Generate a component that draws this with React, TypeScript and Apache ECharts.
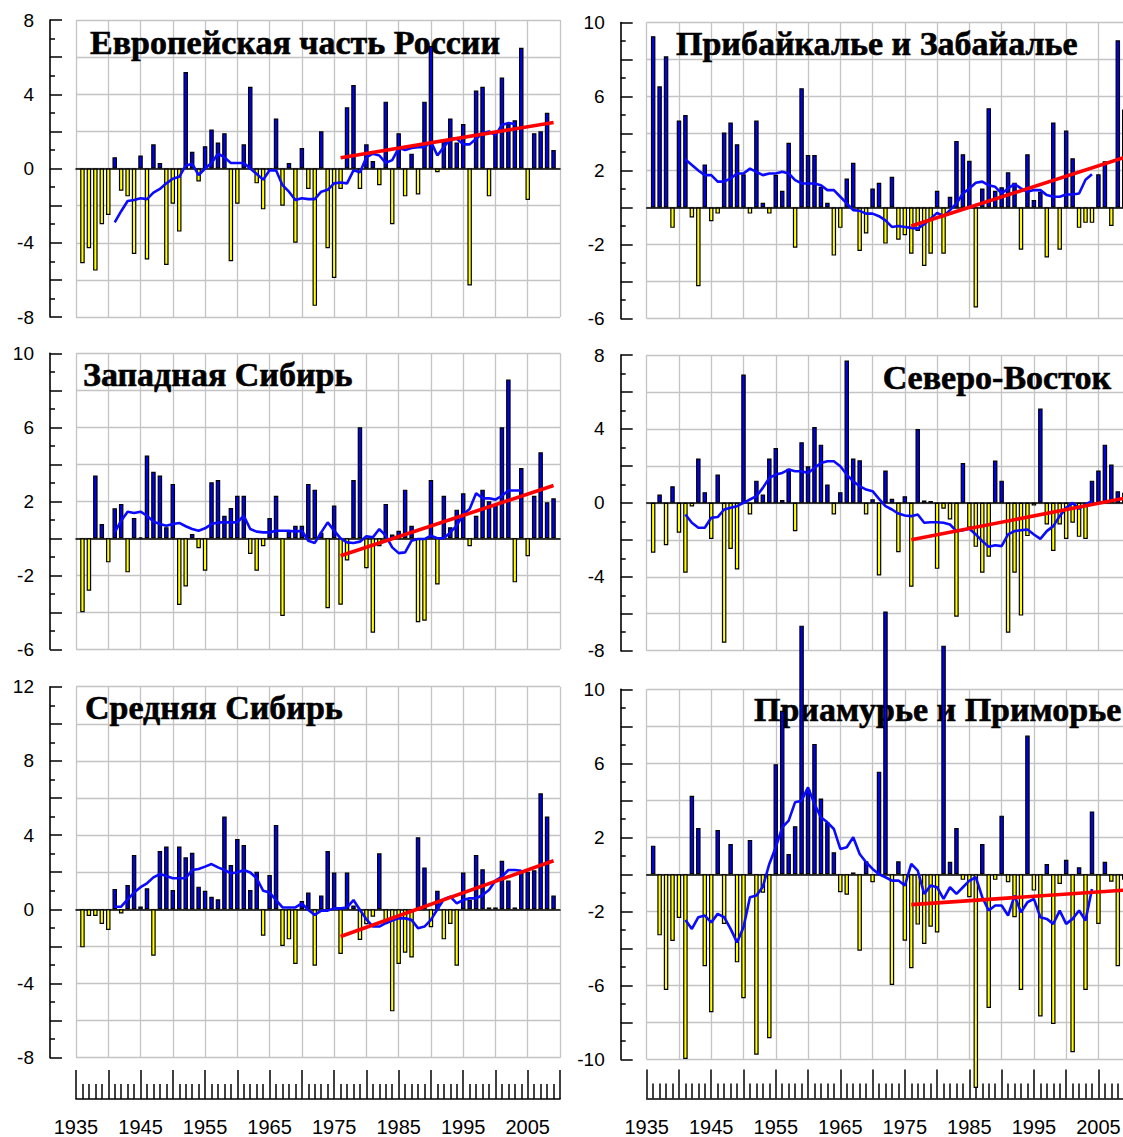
import React, { useEffect, useRef } from "react";
import * as echarts from "echarts";

// ---------- DATA ----------
const BAR_START = 1936; // first bar year (bars run 1936..2009)
const MA_START = 1941; // first year of the smoothed curve
const X_MIN = 1935;
const X_MAX = 2010;

const europeBars = [
  -5.1, -4.3, -5.5, -3.0, -2.5, 0.6, -1.2, -1.5, -4.6, 0.7,
  -4.9, 1.3, 0.3, -5.2, -1.9, -3.4, 5.2, 0.9, -0.7, 1.2,
  2.1, 1.4, 1.9, -5.0, -1.9, 1.3, 4.4, -0.8, -2.2, -0.1,
  2.7, -2.0, 0.3, -4.0, 1.1, -1.1, -7.4, 2.0, -4.3, -5.9,
  -1.1, 3.3, 4.5, -1.1, 1.3, 0.4, -0.9, 3.6, -3.0, 1.9,
  -1.5, 0.8, -1.4, 3.6, 6.6, -0.2, 1.5, 2.7, 1.4, 2.4,
  -6.3, 4.2, 4.4, -1.5, 2.0, 4.9, 2.4, 2.6, 6.5, -1.7,
  1.9, 2.0, 3.0, 1.0,
];
const europeMA = [
  -2.9, -2.3, -1.75, -1.7, -1.6, -1.65, -1.3, -1.1, -0.8, -0.55,
  -0.45, 0.15, 0.25, -0.35, 0.0, 0.3, 0.8, 0.6, 0.3, 0.3,
  0.3, 0.0, -0.3, -0.6, -0.1, -0.1, -0.9, -1.25, -1.7, -1.6,
  -1.65, -1.65, -1.25, -1.15, -0.8, -0.75, -0.8, -0.1, -0.2, 0.6,
  0.8, 0.7, 0.3, 0.45, 1.1, 1.0, 1.1, 1.15, 1.15, 1.45,
  0.7, 1.15, 1.6, 1.6, 1.3, 1.3, 1.6, 1.9, 2.0, 1.8,
  2.35, 2.45, 2.4,
];
const europeTrend = [[1976, 0.58], [2009, 2.48]];

const baikalBars = [
  9.26, 6.55, 8.17, -1.1, 4.7, 5.0, -0.54, -4.25, 2.33, -0.74,
  -0.33, 4.05, 4.6, 3.42, 1.8, -0.33, 4.7, 0.25, -0.33, 1.75,
  0.9, 3.5, -2.17, 6.45, 2.84, 2.84, 1.12, 0.25, -2.6, -1.1,
  1.57, 2.42, -2.35, -1.4, 1.03, 1.34, -1.95, 1.66, -1.74, -1.5,
  -2.5, -1.27, -3.16, -2.5, 0.9, -2.5, 0.58, 3.6, 2.88, 2.53,
  -5.4, 1.03, 5.37, 0.9, 1.1, 1.9, 1.34, -2.28, 2.88, 0.4,
  0.85, -2.7, 4.6, -2.28, 4.16, 2.66, -1.1, -0.83, -0.83, 1.8,
  2.5, -1.0, 9.04, 5.3,
];
const baikalMA = [
  2.6, 2.3, 2.0, 1.75, 1.75, 1.4, 1.4, 1.57, 1.84, 1.84,
  2.1, 1.93, 1.75, 1.84, 1.84, 1.93, 1.84, 1.48, 1.3, 1.3,
  1.3, 1.2, 0.94, 0.94, 0.58, 0.22, -0.14, -0.18, -0.33, -0.33,
  -0.47, -0.7, -1.05, -1.0, -1.05, -1.1, -1.14, -0.9, -0.6, -0.29,
  -0.47, -0.14, 0.22, 0.76, 1.03, 1.34, 1.4, 1.2, 1.12, 0.76,
  1.03, 1.27, 1.03, 0.85, 0.94, 0.94, 0.67, 0.58, 0.58, 0.7,
  0.7, 0.76, 1.5, 1.8,
];
const baikalTrend = [[1976, -1.0], [2009, 2.7]];

const westBars = [
  -4.0, -2.83, 3.39, 0.77, -1.3, 1.62, 1.86, -1.84, 1.1, 0.05,
  4.47, 3.6, 3.39, 0.6, 2.94, -3.6, -2.6, 0.23, -0.54, -1.75,
  3.03, 3.15, 1.22, 1.64, 2.3, 2.3, -0.85, -1.75, -0.43, 1.1,
  2.3, -4.2, 0.41, 0.68, 0.68, 2.94, 2.63, 0.3, -3.78, 1.77,
  -3.59, -1.2, 3.15, 6.0, -1.62, -5.1, -0.43, 1.86, 0.2, 0.41,
  2.63, 0.68, -4.54, -4.45, 3.15, -2.5, 2.3, 0.6, 1.55, 2.43,
  -0.43, 1.22, 2.63, 2.0, 1.8, 6.0, 8.58, -2.38, 3.8, -0.97,
  2.3, 4.65, 1.95, 2.16,
];
const westMA = [
  0.32, 0.95, 1.44, 1.37, 1.44, 1.22, 0.9, 0.77, 0.68, 0.77,
  0.83, 0.65, 0.5, 0.41, 0.54, 0.77, 0.86, 0.86, 0.86, 0.86,
  1.22, 0.5, 0.36, 0.32, 0.32, 0.41, 0.41, 0.41, 0.36, 0.41,
  -0.13, -0.25, 0.32, 0.86, 0.41, 0.0, -0.22, -0.25, -0.18, 0.11,
  0.05, 0.5, 0.14, -0.49, -0.8, -0.76, -0.13, -0.04, -0.04, 0.14,
  0.0, 0.0, 0.32, 0.68, 1.3, 1.58, 2.43, 2.16, 2.16, 2.09,
  2.3, 2.58, 2.58, 2.58,
];
const westTrend = [[1976, -0.94], [2009, 2.85]];

const northEastBars = [
  -2.7, 0.45, -2.29, 0.9, -1.62, -3.78, -0.2, 2.4, 0.58, -1.95,
  1.53, -7.57, -2.5, -3.6, 6.94, -0.63, 1.2, 0.45, 2.4, 2.97,
  0.15, 1.84, -1.53, 3.28, 1.98, 4.1, 3.15, 0.99, -0.63, 0.58,
  7.7, 2.4, 2.3, -0.63, 0.2, -3.93, 1.75, 0.22, -2.67, 0.36,
  -4.54, 4.0, 0.13, 0.1, -3.57, -0.32, -0.9, -6.16, 2.16, -1.35,
  -2.38, -3.78, -2.92, 2.29, 1.2, -7.03, -3.78, -6.1, -1.8, -0.14,
  5.1, -1.17, -2.6, -1.17, -1.95, -1.08, -1.84, -1.95, 1.2, 1.75,
  3.15, 2.07, 0.63, 0.55,
];
const northEastMA = [
  -0.63, -1.08, -1.35, -1.35, -0.81, -0.77, -0.36, -0.27, -0.18, 0.0,
  0.18, 0.36, 0.81, 1.35, 1.53, 1.62, 1.8, 1.71, 1.71, 1.62,
  1.89, 2.16, 2.25, 2.25, 1.98, 1.53, 1.17, 0.9, 0.72, 0.63,
  0.22, -0.18, -0.36, -0.58, -0.68, -0.72, -0.63, -1.08, -1.05, -1.05,
  -1.08, -1.17, -1.53, -1.48, -1.4, -1.71, -2.07, -2.38, -2.29, -2.34,
  -1.71, -1.53, -1.48, -1.44, -1.71, -1.95, -1.53, -1.26, -0.72, -0.27,
  0.0, -0.32, -0.09, 0.09,
];
const northEastTrend = [[1976, -2.0], [2009, 0.25]];

const centralBars = [
  -2.05, -0.36, -0.36, -0.79, -1.11, 1.1, -0.22, 1.31, 2.93, 0.15,
  1.13, -2.5, 3.14, 3.38, 1.04, 3.38, 2.8, 3.05, 1.22, 1.0,
  0.68, 0.54, 5.0, 2.39, 3.79, 3.47, 1.04, 2.03, -1.42, 1.85,
  4.55, -1.98, -1.62, -2.95, 0.45, 0.9, -3.04, 0.75, 3.14, 1.98,
  -2.41, 1.98, 0.2, -1.65, -0.8, -0.4, 3.02, -0.75, -5.5, -2.95,
  -2.34, -2.6, 3.88, 2.26, -0.97, 1.0, -1.62, -0.79, -3.04, 1.98,
  0.5, 2.93, 2.16, 0.1, 0.1, 2.62, 1.55, 0.1, 2.12, 2.03,
  2.1, 6.25, 5.0, 0.74,
];
const centralMA = [
  0.14, 0.14, 0.54, 0.9, 1.19, 1.4, 1.72, 1.9, 1.8, 1.67,
  1.67, 1.67, 2.12, 2.17, 2.3, 2.44, 2.26, 2.12, 1.94, 1.98,
  2.12, 1.98, 1.67, 1.0, 0.9, 0.5, 0.1, 0.1, 0.1, 0.32,
  -0.04, -0.3, -0.07, -0.07, 0.05, 0.05, 0.1, 0.5, -0.04, -0.54,
  -0.93, -0.93, -0.75, -0.61, -0.49, -0.49, -0.57, -1.02, -0.93, -0.57,
  0.0, 0.54, 0.68, 0.32, 0.5, 0.59, 0.59, 0.77, 1.04, 1.55,
  1.76, 2.12, 2.12, 2.08,
];
const centralTrend = [[1976, -1.47], [2009, 2.62]];

const amurBars = [
  1.55, -3.3, -6.25, -3.6, -2.36, -9.98, 4.25, 2.5, -4.97, -7.46,
  2.4, -2.68, 1.64, -4.76, -6.7, 1.86, -9.75, -1.0, -8.86, 5.95,
  8.84, 1.1, 2.6, 13.44, 4.6, 7.05, 4.1, 2.8, 1.19, -0.97,
  -1.1, 0.1, -4.13, 0.7, -0.43, 5.55, 14.2, -5.98, 0.7, -3.59,
  -5.08, -2.72, -3.77, -2.83, -3.14, 12.36, 0.68, 2.5, -0.3, -1.24,
  -11.55, 1.64, -7.23, -0.3, 3.17, -0.43, -2.32, -6.25, 7.5, -0.88,
  -7.68, 0.56, -8.09, -0.52, 0.79, -9.62, 0.38, -6.25, 3.4, -2.68,
  0.68, -0.4, -4.97, -0.3,
];
const amurMA = [
  -2.47, -2.95, -2.32, -2.23, -2.6, -2.14, -2.32, -2.95, -3.68, -2.86,
  -1.24, -1.15, -0.67, 0.56, 1.46, 2.54, 2.9, 3.9, 3.98, 4.7,
  3.8, 3.08, 2.81, 2.45, 1.37, 1.46, 2.0, 1.1, 0.65, 0.29,
  0.0, -0.16, -0.34, -0.34, -0.61, 0.56, 0.2, -1.06, -0.61, -0.7,
  -1.33, -0.7, -1.06, -0.7, -0.34, -0.16, -1.24, -1.96, -1.69, -1.69,
  -2.23, -1.15, -2.05, -1.51, -1.33, -2.32, -2.41, -2.68, -1.96, -2.68,
  -2.41, -1.96, -2.5, -0.79,
];
const amurTrend = [[1976, -1.64], [2009, -0.86]];

const titles = [
  "Европейская часть России",
  "Прибайкалье и Забайалье",
  "Западная Сибирь",
  "Северо-Восток",
  "Средняя Сибирь",
  "Приамурье и Приморье",
];

// ---------- LAYOUT ----------
const PLOT_W = 484;
const layout = [
  { left: 76, top: 20, height: 297, min: -8, max: 8, tx: 90, ty: 42, align: "left" },
  { left: 646.7, top: 22.5, height: 296, min: -6, max: 10, tx: 676, ty: 43, align: "left" },
  { left: 76, top: 353.3, height: 296, min: -6, max: 10, tx: 83, ty: 374, align: "left" },
  { left: 646.7, top: 355, height: 295.7, min: -8, max: 8, tx: 1111, ty: 377, align: "right" },
  { left: 76, top: 686.7, height: 371, min: -8, max: 12, tx: 85, ty: 707, align: "left" },
  { left: 646.7, top: 689.3, height: 370, min: -10, max: 10, tx: 754, ty: 709, align: "left" },
];
const seriesData = [
  { bars: europeBars, ma: europeMA, trend: europeTrend },
  { bars: baikalBars, ma: baikalMA, trend: baikalTrend },
  { bars: westBars, ma: westMA, trend: westTrend },
  { bars: northEastBars, ma: northEastMA, trend: northEastTrend },
  { bars: centralBars, ma: centralMA, trend: centralTrend },
  { bars: amurBars, ma: amurMA, trend: amurTrend },
];

const BLUE_BAR = "#0000f2";
const YELLOW_BAR = "#ffff00";
const MA_COLOR = "#0a0aff";
const TREND_COLOR = "#ff0000";
const GRID_COLOR = "#c4c4c4";
const AXIS_FONT = "Liberation Sans";

function buildOption() {
  const grid: any[] = layout.map((l) => ({ left: l.left, top: l.top, width: PLOT_W, height: l.height }));
  grid.push({ left: 76, top: 1070, width: PLOT_W, height: 31.5 });
  grid.push({ left: 646.7, top: 1067, width: PLOT_W, height: 31.5 });

  const xAxis: any[] = layout.map((_, i) => ({
    type: "value",
    gridIndex: i,
    min: X_MIN,
    max: X_MAX,
    interval: 5,
    axisLine: { show: true, onZero: true, lineStyle: { color: "#000", width: 1.6 } },
    axisTick: { show: false },
    axisLabel: { show: false },
    splitLine: { show: true, lineStyle: { color: GRID_COLOR, width: 1.3 } },
  }));
  [6, 7].forEach((gi) =>
    xAxis.push({
      type: "value",
      gridIndex: gi,
      min: X_MIN,
      max: X_MAX,
      interval: 5,
      position: "bottom",
      axisLine: { show: true, onZero: false, lineStyle: { color: "#000", width: 1.6 } },
      axisTick: { show: true, inside: true, length: 29, lineStyle: { color: "#000", width: 1.5 } },
      minorTick: { show: true, splitNumber: 5, length: 15, lineStyle: { color: "#000", width: 1.5 } },
      axisLabel: {
        show: true,
        margin: 18,
        fontSize: 20,
        fontFamily: AXIS_FONT,
        color: "#000",
        formatter: (v: number) => ((Math.round(v) - X_MIN) % 10 === 0 ? String(Math.round(v)) : ""),
      },
      splitLine: { show: false },
    })
  );

  const yAxis: any[] = layout.map((l, i) => ({
    type: "value",
    gridIndex: i,
    min: l.min,
    max: l.max,
    interval: 2,
    offset: 26,
    axisLine: { show: true, onZero: false, lineStyle: { color: "#000", width: 1.6 } },
    axisTick: { show: true, inside: true, length: 12, lineStyle: { color: "#000", width: 1.5 } },
    minorTick: { show: true, splitNumber: 2, length: 5, lineStyle: { color: "#000", width: 1.5 } },
    axisLabel: {
      margin: 16,
      fontSize: 19,
      fontFamily: AXIS_FONT,
      color: "#000",
      formatter: (v: number) => ((v - l.min) % 4 === 0 ? String(v) : ""),
    },
    splitLine: { show: true, lineStyle: { color: GRID_COLOR, width: 1.3 } },
  }));
  yAxis.push({ type: "value", gridIndex: 6, show: false });
  yAxis.push({ type: "value", gridIndex: 7, show: false });

  const series: any[] = [];
  seriesData.forEach((d, i) => {
    series.push({
      type: "bar",
      xAxisIndex: i,
      yAxisIndex: i,
      barWidth: 4.5,
      clip: false,
      z: 3,
      silent: true,
      data: d.bars.map((v, k) => [BAR_START + k, v]),
      itemStyle: {
        color: (p: any) => (p.value[1] >= 0 ? BLUE_BAR : YELLOW_BAR),
        borderColor: "#000",
        borderWidth: 1.2,
      },
    });
    series.push({
      type: "line",
      xAxisIndex: i,
      yAxisIndex: i,
      symbol: "none",
      z: 4,
      silent: true,
      data: d.ma.map((v, k) => [MA_START + k, v]),
      lineStyle: { color: MA_COLOR, width: 2.6 },
    });
    series.push({
      type: "line",
      xAxisIndex: i,
      yAxisIndex: i,
      symbol: "none",
      z: 5,
      silent: true,
      data: d.trend,
      lineStyle: { color: TREND_COLOR, width: 3.6 },
    });
  });

  const graphic = layout.map((l, i) => ({
    type: "text",
    x: l.tx,
    y: l.ty,
    z: 1,
    silent: true,
    style: {
      text: titles[i],
      font: 'bold 34px "Liberation Serif"',
      fill: "#000",
      stroke: "#000",
      lineWidth: 0.6,
      align: l.align,
      verticalAlign: "middle",
    },
  }));

  return {
    animation: false,
    backgroundColor: "#ffffff",
    grid,
    xAxis,
    yAxis,
    series,
    graphic,
  };
}

export default function App() {
  const ref = useRef<HTMLDivElement>(null);
  useEffect(() => {
    if (!ref.current) return;
    const chart = echarts.init(ref.current, undefined, { renderer: "svg" });
    chart.setOption(buildOption() as any);
    return () => chart.dispose();
  }, []);
  return (
    <div
      style={{
        position: "absolute",
        left: 0,
        top: 0,
        width: 1123,
        height: 1137,
        overflow: "hidden",
        background: "#fff",
      }}
    >
      <div ref={ref} style={{ width: 1140, height: 1137 }} />
    </div>
  );
}
